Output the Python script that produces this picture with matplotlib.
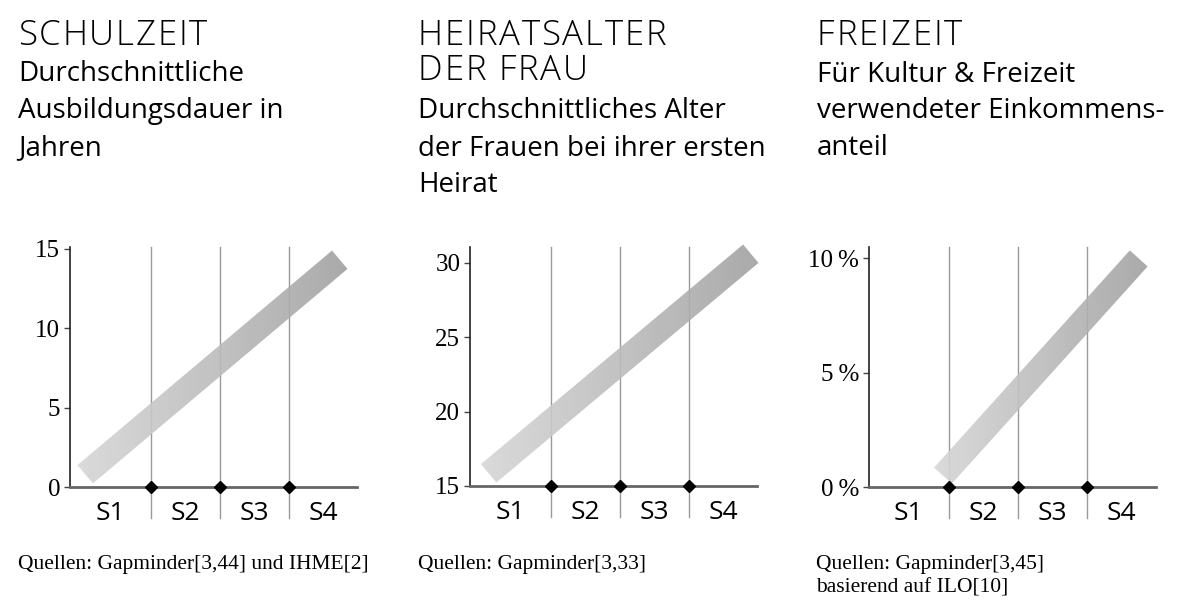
import numpy as np
import matplotlib
matplotlib.use('Agg')
import matplotlib.pyplot as plt
from matplotlib import font_manager
from matplotlib.ft2font import FT2Font
from matplotlib.patches import Polygon
from matplotlib.transforms import IdentityTransform

plt.rcParams['font.family'] = ['Open Sans', 'DejaVu Sans']
SERIF = ['Liberation Serif', 'DejaVu Serif']

W, H = 1190, 605

# gemeinsame Achse: vier Stufen
stages = ['S1', 'S2', 'S3', 'S4']
stage_bounds = [1, 2, 3]

# Schulzeit
school_ticks = [0, 5, 10, 15]
school_labels = ['0', '5', '10', '15']
school_band_x = [0.05, 3.74]
school_band_y = [0.8, 14.3]

# Heiratsalter der Frau
marriage_ticks = [15, 20, 25, 30]
marriage_labels = ['15', '20', '25', '30']
marriage_band_x = [0.10, 3.90]
marriage_band_y = [15.85, 30.6]

# Freizeit
leisure_ticks = [0, 5, 10]
leisure_labels = ['0\u2009%', '5\u2009%', '10\u2009%']
leisure_band_x = [0.92, 3.75]
leisure_band_y = [0.5, 10.0]

fig = plt.figure(figsize=(W / 100, H / 100), dpi=100)


def px_axes(left, right, top, bottom):
    return fig.add_axes([left / W, 1 - bottom / H, (right - left) / W, (bottom - top) / H])


def px_text(x, y, s, **kw):
    fig.text(x / W, 1 - y / H, s, va='baseline', ha='left', **kw)


def tracked_text(x, y, s, size=25, track=1.8, weight='light'):
    # Versalien mit Sperrung, Zeichen einzeln gesetzt
    fp = font_manager.FontProperties(family='Open Sans', weight=weight, size=size)
    ft = FT2Font(font_manager.findfont(fp))
    ft.set_size(size, 100)
    for c in s:
        if c != ' ':
            fig.text(x / W, 1 - y / H, c, fontproperties=fp, va='baseline', ha='left',
                     color='black')
        x += ft.load_char(ord(c)).linearHoriAdvance / 65536 + track


def draw_panel(ax, xlim, ylim, ticks, labels, band_x, band_y):
    ax.set_xlim(*xlim)
    ax.set_ylim(*ylim)
    ax.set_autoscale_on(False)
    for s in ['top', 'right']:
        ax.spines[s].set_visible(False)
    ax.spines['left'].set_color('#222222')
    ax.spines['left'].set_linewidth(1.2)
    ax.spines['bottom'].set_color('#666666')
    ax.spines['bottom'].set_linewidth(2)
    ax.set_yticks(ticks, labels)
    ax.tick_params(axis='y', length=4, width=1, color='#444444', labelsize=18, pad=3)
    for lab in ax.get_yticklabels():
        lab.set_family(SERIF)

    centers = [(xlim[0] + 1) / 2] + [b + 0.5 for b in stage_bounds]
    ax.set_xticks(centers, stages)
    ax.tick_params(axis='x', length=0, labelsize=19, pad=10)

    # Stufengrenzen
    ext = 31 / 240
    for b in stage_bounds:
        ax.axvline(b, ymin=-ext, ymax=1, color='#999999', lw=1, clip_on=False, zorder=1)
    ax.plot(stage_bounds, [ylim[0]] * len(stage_bounds), 'D', color='black', ms=6,
            clip_on=False, zorder=5)

    # Band mit Verlauf
    p0 = ax.transData.transform((band_x[0], band_y[0]))
    p1 = ax.transData.transform((band_x[1], band_y[1]))
    d = (p1 - p0) / np.hypot(*(p1 - p0))
    n = np.array([-d[1], d[0]]) * 12
    corners = np.array([p0 + n, p1 + n, p1 - n, p0 - n])
    poly = Polygon(corners, closed=True, facecolor='none', edgecolor='none',
                   transform=IdentityTransform())
    ax.add_patch(poly)
    inv = ax.transData.inverted()
    xl = inv.transform((corners[:, 0].min(), corners[:, 1].min()))
    xr = inv.transform((corners[:, 0].max(), corners[:, 1].max()))
    grad = np.linspace(0.84, 0.63, 256).reshape(1, -1)
    im = ax.imshow(grad, extent=[xl[0], xr[0], xl[1], xr[1]], aspect='auto', cmap='gray',
                   vmin=0, vmax=1, alpha=0.9, interpolation='bilinear', zorder=3)
    im.set_clip_box(fig.bbox)
    im.set_clip_path(poly)


ax1 = px_axes(70, 357, 247, 487)
draw_panel(ax1, (-0.17, 3.99), (0, 15.1), school_ticks, school_labels,
           school_band_x, school_band_y)

ax2 = px_axes(470, 757, 247, 486)
draw_panel(ax2, (-0.17, 3.99), (15, 31.05), marriage_ticks, marriage_labels,
           marriage_band_x, marriage_band_y)

ax3 = px_axes(869, 1156, 247, 487)
draw_panel(ax3, (-0.15, 4.0), (0, 10.5), leisure_ticks, leisure_labels,
           leisure_band_x, leisure_band_y)

# Titel und Untertitel
sub_kw = dict(fontsize=20, color='black')
tracked_text(18, 45, 'SCHULZEIT')
px_text(18, 81, 'Durchschnittliche', **sub_kw)
px_text(18, 118, 'Ausbildungsdauer in', **sub_kw)
px_text(18, 155, 'Jahren', **sub_kw)

tracked_text(418, 45, 'HEIRATSALTER')
tracked_text(418, 80, 'DER FRAU')
px_text(418, 118, 'Durchschnittliches Alter', **sub_kw)
px_text(418, 156, 'der Frauen bei ihrer ersten', **sub_kw)
px_text(418, 192, 'Heirat', **sub_kw)

tracked_text(817, 45, 'FREIZEIT')
px_text(817, 82, 'Für Kultur & Freizeit', **sub_kw)
px_text(817, 118, 'verwendeter Einkommens-', **sub_kw)
px_text(817, 155, 'anteil', **sub_kw)

# Quellen
src_kw = dict(fontsize=15.5, color='black', family=SERIF)
px_text(18, 569, 'Quellen: Gapminder[3,44] und IHME[2]', **src_kw)
px_text(418, 569, 'Quellen: Gapminder[3,33]', **src_kw)
px_text(816, 569, 'Quellen: Gapminder[3,45]', **src_kw)
px_text(816, 592, 'basierend auf ILO[10]', **src_kw)

fig.savefig('out.png', dpi=100)
